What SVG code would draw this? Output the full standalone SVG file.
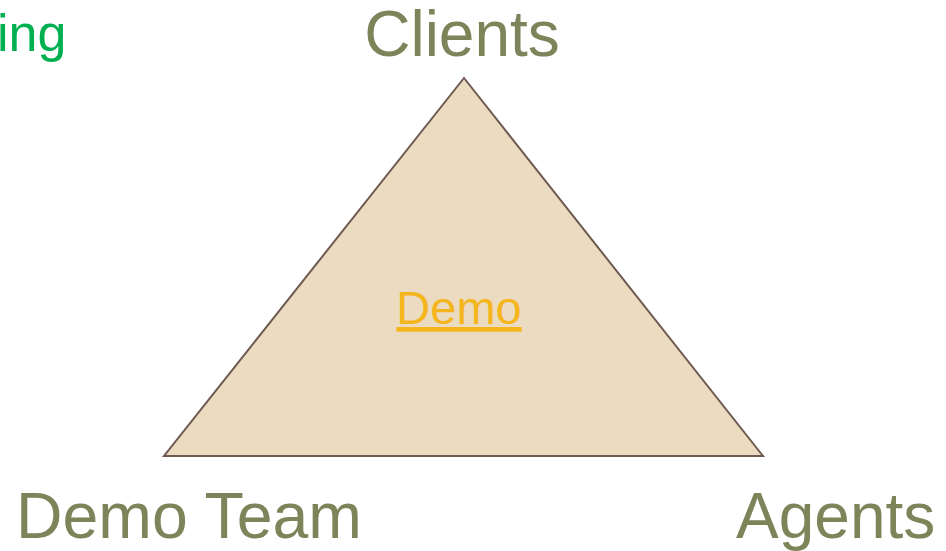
<svg xmlns="http://www.w3.org/2000/svg" width="946" height="551" viewBox="0 0 946 551">
<style>
.lbl{font-family:"Liberation Sans",Arial,sans-serif;font-size:64px;fill:#7E845A}
</style>
<rect width="946" height="551" fill="#FFFFFF"/>
<g id="connectors"></g>
<g id="triangle">
<polygon points="464,78 164,456 763,456" fill="#EADBC1" stroke="#6E5A50" stroke-width="2"/>
</g>
<g id="demo">
<text x="459" y="324" text-anchor="middle" font-family="Liberation Sans, Arial, sans-serif" font-size="47" fill="#F5B51C" text-decoration="underline">Demo</text>
</g>
<g id="clients"><text class="lbl" x="462" y="56" text-anchor="middle">Clients</text></g>
<g id="demo-team"><text class="lbl" x="16" y="538" textLength="346" lengthAdjust="spacingAndGlyphs">Demo Team</text></g>
<g id="agents"><text class="lbl" x="736" y="538">Agents</text></g>
<g id="ing"><text x="-3" y="51" font-family="Liberation Sans, Arial, sans-serif" font-size="52" fill="#00B050">ing</text></g>
</svg>
